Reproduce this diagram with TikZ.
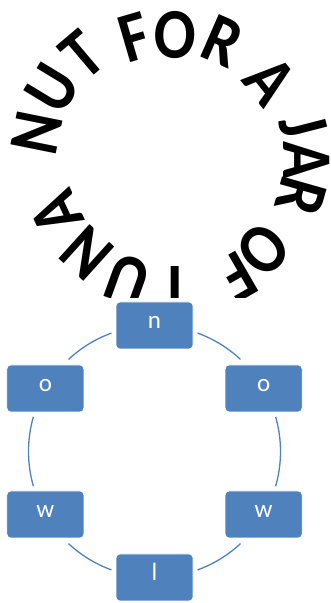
\documentclass[tikz,border=0pt]{standalone}
\usepackage{fontspec}
\setmainfont{Carlito}
\definecolor{accblue}{HTML}{4F81BD}
\begin{document}
\begin{tikzpicture}[x=1pt,y=1pt,
  cyclebox/.style={draw=white, line width=0.6pt, fill=accblue, rounded corners=4pt,
    minimum width=77pt, minimum height=47pt, inner sep=0pt, text=white,
    text height=0.6em, text depth=0pt, font=\fontsize{25}{25}\selectfont},
  ring/.style={draw=accblue, line width=1.3pt},
  arcletter/.style={font=\bfseries\fontsize{62}{62}\selectfont, inner sep=0pt, anchor=center}]
\useasboundingbox (0,0) rectangle (331,603);
% circular title text (clipped at the bottom as in the original)
\begin{scope}
\clip (0,305.5) rectangle (331,603);
\node[arcletter, rotate=78.6,  yscale=1.15] (t1)  at (37,470)  {N};
\node[arcletter, rotate=58.8,  yscale=1.15] (t2)  at (52,515)  {U};
\node[arcletter, rotate=40.3,  yscale=1.15] (t3)  at (82,548)  {T};
\node[arcletter, rotate=16.3,  yscale=1.15] (t4)  at (135,566) {F};
\node[arcletter, rotate=-1.8,  yscale=1.15] (t5)  at (175,568) {O};
\node[arcletter, rotate=-23.6, yscale=1.15] (t6)  at (223,562) {R};
\node[arcletter, rotate=-51.4, yscale=1.15] (t7)  at (270,522) {A};
\node[arcletter, rotate=-75.6, yscale=1.15] (t8)  at (303,477) {J};
\node[arcletter, rotate=-90,   yscale=1.15] (t9)  at (307,443) {A};
\node[arcletter, rotate=-105.8,yscale=1.15] (t10) at (301,406) {R};
\node[arcletter, rotate=-134.4,yscale=1.15] (t11) at (263,353) {O};
\node[arcletter, rotate=-150,  yscale=1.15] (t12) at (238,326) {F};
\node[arcletter, rotate=180,   yscale=1.15] (t13) at (175,313) {T};
\node[arcletter, rotate=160.1, yscale=1.15] (t14) at (128,323) {U};
\node[arcletter, rotate=137.9, yscale=1.15] (t15) at (87,350)  {N};
\node[arcletter, rotate=114.9, yscale=1.15] (t16) at (57,390)  {A};
\end{scope}
% cycle diagram
\coordinate (cyc) at (154.5,151.5);
\draw[ring] ([shift={(70:126)}]cyc) arc[start angle=70, end angle=47, radius=126];
\draw[ring] ([shift={(16:126)}]cyc) arc[start angle=16, end angle=-16, radius=126];
\draw[ring] ([shift={(-47:126)}]cyc) arc[start angle=-47, end angle=-70, radius=126];
\draw[ring] ([shift={(-110:126)}]cyc) arc[start angle=-110, end angle=-133, radius=126];
\draw[ring] ([shift={(196:126)}]cyc) arc[start angle=196, end angle=164, radius=126];
\draw[ring] ([shift={(133:126)}]cyc) arc[start angle=133, end angle=110, radius=126];
\node[cyclebox] (b1) at ([shift={(90:126)}]cyc)  {n};
\node[cyclebox] (b2) at ([shift={(30:126)}]cyc)  {o};
\node[cyclebox] (b3) at ([shift={(-30:126)}]cyc) {w};
\node[cyclebox] (b4) at ([shift={(-90:126)}]cyc) {l};
\node[cyclebox] (b5) at ([shift={(210:126)}]cyc) {w};
\node[cyclebox] (b6) at ([shift={(150:126)}]cyc) {o};
\end{tikzpicture}
\end{document}
